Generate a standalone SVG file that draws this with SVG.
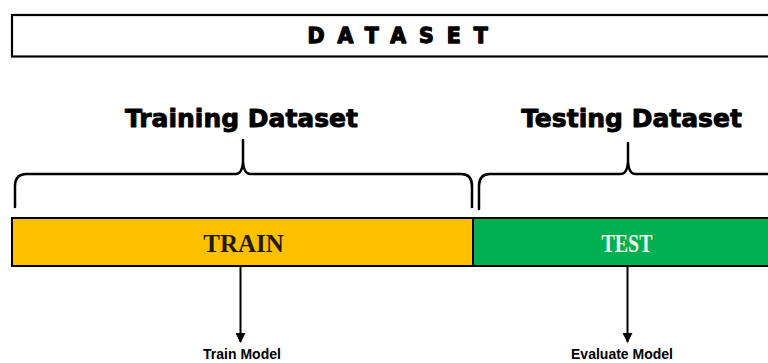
<svg xmlns="http://www.w3.org/2000/svg" width="768" height="363" viewBox="0 0 768 363">
<style>
.hdr{font-family:"DejaVu Sans","Liberation Sans",sans-serif;font-weight:bold;fill:#000;stroke:#000;stroke-width:0.9;stroke-linejoin:round}
.brace{fill:none;stroke:#000;stroke-width:2.5;stroke-linecap:round;stroke-linejoin:round}
.bar{stroke:#000;stroke-width:2}
.lbl{font-family:"Liberation Serif",serif;font-weight:bold;font-size:25px;text-anchor:middle}
.sm{font-family:"Liberation Sans",Arial,sans-serif;font-weight:bold;font-size:14px;fill:#000;text-anchor:middle}
.conn{stroke:#000;stroke-width:2;fill:none}
</style>
<defs>
<marker id="ah" viewBox="0 0 10 10" refX="9" refY="5" markerWidth="5" markerHeight="5" orient="auto" markerUnits="strokeWidth">
<path d="M0,0 L10,5 L0,10 Z" fill="#000"/>
</marker>
</defs>
<rect width="768" height="363" fill="#fff"/>
<g id="dataset">
<rect x="12" y="15" width="800" height="41.5" fill="#fff" stroke="#000" stroke-width="2.2"/>
<text class="hdr" x="307.5" y="42.5" font-size="20.5" letter-spacing="13" style="stroke-width:1.3">DATASET</text>
</g>
<g id="training-dataset">
<text class="hdr" x="241.5" y="126.5" font-size="25" text-anchor="middle">Training Dataset</text>
<path class="brace" d="M15,207 V186 Q15,174 27,174 H236 Q242,174 243,162 V140 M243,162 Q244,174 250,174 H461 Q472,174 472,186 V207"/>
</g>
<g id="testing-dataset">
<text class="hdr" x="631.5" y="126.5" font-size="25" text-anchor="middle">Testing Dataset</text>
<path class="brace" d="M479,209 V186 Q479,174 490,174 H621 Q627,174 628,162 V143 M628,162 Q629,174 635,174 H790"/>
</g>
<g id="train">
<rect class="bar" x="12" y="218" width="461" height="48" fill="#FFC000"/>
<text class="lbl" x="243.5" y="251.5" fill="#231a10">TRAIN</text>
</g>
<g id="test">
<rect class="bar" x="473" y="218" width="400" height="48" fill="#00B050"/>
<text class="lbl" x="627" y="251.5" fill="#eef8ee" textLength="51" lengthAdjust="spacingAndGlyphs">TEST</text>
</g>
<g id="connectors">
<line class="conn" x1="240.5" y1="267" x2="240.5" y2="342" marker-end="url(#ah)"/>
<line class="conn" x1="627.5" y1="267" x2="627.5" y2="342" marker-end="url(#ah)"/>
</g>
<g id="train-model">
<text class="sm" x="242" y="359">Train Model</text>
</g>
<g id="evaluate-model">
<text class="sm" x="622" y="359">Evaluate Model</text>
</g>
</svg>
